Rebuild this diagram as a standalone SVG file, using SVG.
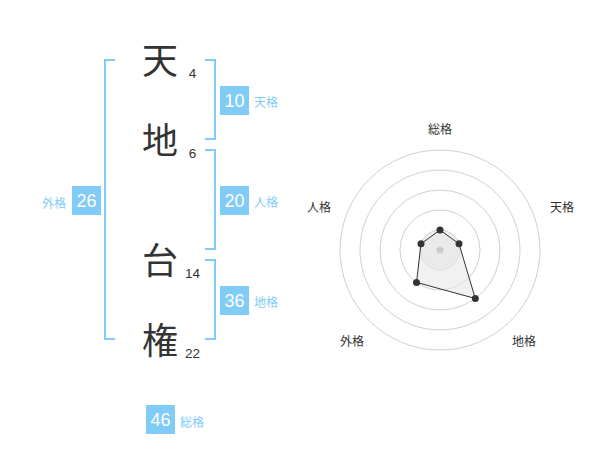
<svg xmlns="http://www.w3.org/2000/svg" width="600" height="470" viewBox="0 0 600 470">
<style>
.kanji{font-family:"Noto Sans CJK JP","Noto Sans CJK SC",sans-serif;font-size:36px;fill:#333;text-anchor:middle}
.num{font-family:"Liberation Sans",Arial,sans-serif;font-size:13.5px;fill:#333;text-anchor:middle}
.br{fill:none;stroke:#80ccf7;stroke-width:2}
.box{fill:#80ccf7}
.bnum{font-family:"Liberation Sans",Arial,sans-serif;font-size:18px;fill:#fff;text-anchor:middle}
.blab{font-family:"Noto Sans CJK JP","Noto Sans CJK SC",sans-serif;font-size:12px;fill:#80ccf7}
.ring{fill:none;stroke:#d0d0d0;stroke-width:1}
.rlab{font-family:"Noto Sans CJK JP","Noto Sans CJK SC",sans-serif;font-size:12px;fill:#333;text-anchor:middle}
.pt{fill:#333}
</style>
<rect width="600" height="470" fill="#fff"/>
<g id="chars">
<g id="c1"><text class="kanji" x="160" y="74">天</text><text class="num" x="192.5" y="77.5">4</text></g>
<g id="c2"><text class="kanji" x="160" y="154">地</text><text class="num" x="192.5" y="157.5">6</text></g>
<g id="c3"><text class="kanji" x="160" y="274">台</text><text class="num" x="192.5" y="277.5">14</text></g>
<g id="c4"><text class="kanji" x="160" y="354">権</text><text class="num" x="192.5" y="357.5">22</text></g>
</g>
<g id="brackets">
<path class="br" d="M115,60 H105 V339 H115"/>
<path class="br" d="M205,60 H215 V139 H205"/>
<path class="br" d="M205,150 H215 V249 H205"/>
<path class="br" d="M205,260 H215 V339 H205"/>
</g>
<g id="tenkaku"><rect class="box" x="220" y="86" width="29" height="29"/><text class="bnum" x="234.5" y="107">10</text><text class="blab" x="254" y="107">天格</text></g>
<g id="jinkaku"><rect class="box" x="220" y="186" width="29" height="29"/><text class="bnum" x="234.5" y="207">20</text><text class="blab" x="254" y="207">人格</text></g>
<g id="chikaku"><rect class="box" x="220" y="286" width="29" height="29"/><text class="bnum" x="234.5" y="307">36</text><text class="blab" x="254" y="307">地格</text></g>
<g id="gaikaku"><rect class="box" x="72" y="186" width="29" height="29"/><text class="bnum" x="86.5" y="207">26</text><text class="blab" x="66" y="208" text-anchor="end">外格</text></g>
<g id="soukaku"><rect class="box" x="146" y="405" width="29" height="29"/><text class="bnum" x="160.5" y="426">46</text><text class="blab" x="180" y="427">総格</text></g>
<g id="radar">
<circle class="ring" cx="440" cy="250" r="100"/>
<circle class="ring" cx="440" cy="250" r="80"/>
<circle class="ring" cx="440" cy="250" r="60"/>
<circle class="ring" cx="440" cy="250" r="40"/>
<circle cx="440" cy="250" r="20" fill="#eee" stroke="#d0d0d0"/>
<polygon points="440,230 459,243.8 475.3,298.5 416.5,282.4 421,243.8" fill="#e8e8e8" fill-opacity="0.6" stroke="#333" stroke-width="1"/>
<circle cx="440" cy="250" r="3.5" fill="#ccc"/>
<circle class="pt" cx="440" cy="230" r="3.5"/>
<circle class="pt" cx="459" cy="243.8" r="3.5"/>
<circle class="pt" cx="475.3" cy="298.5" r="3.5"/>
<circle class="pt" cx="416.5" cy="282.4" r="3.5"/>
<circle class="pt" cx="421" cy="243.8" r="3.5"/>
<text class="rlab" x="440" y="134">総格</text>
<text class="rlab" x="562" y="212">天格</text>
<text class="rlab" x="524" y="346">地格</text>
<text class="rlab" x="352" y="346">外格</text>
<text class="rlab" x="319" y="212">人格</text>
</g>
</svg>
